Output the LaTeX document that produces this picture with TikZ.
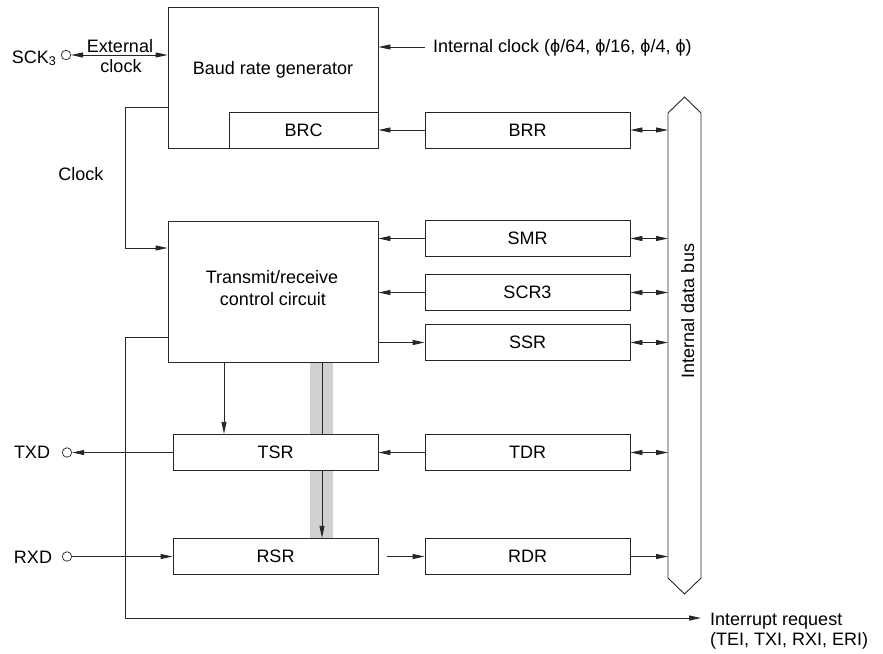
\documentclass[tikz,border=0pt]{standalone}
\usepackage{fontspec}
\setmainfont{Liberation Sans}
\usetikzlibrary{arrows.meta}
\begin{document}
\begin{tikzpicture}[x=1pt,y=-1pt,
  every node/.style={font=\fontsize{18}{21}\selectfont, text=black},
  box/.style={draw=black!85, line width=0.9pt, fill=white, inner sep=0pt},
  reg/.style={box, minimum width=205pt, minimum height=36.5pt},
  big/.style={box, minimum width=210pt, minimum height=141pt},
  pin/.style={circle, draw=black!85, line width=0.7pt, minimum size=9.5pt, inner sep=0pt},
  conn/.style={draw=black!85, line width=0.9pt},
  >={Triangle[length=12pt,width=5pt]}]
\useasboundingbox (0,0) rectangle (883,653);

% grey transfer bar (behind TSR)
\fill[black!18] (310,362) rectangle (333,538);

% main blocks
\node[big] (brg) at (273,77.5) {};
\node[box, minimum width=149pt, minimum height=36pt] (brc) at (303.5,130) {BRC};
\node[anchor=base] (brgt) at (273,74) {Baud rate generator};
\node[reg, minimum height=36pt] (brr) at (527.5,130) {BRR};

\node[big] (trc) at (273,291.5) {};
\node[anchor=base] (trct1) at (272,283) {Transmit/receive};
\node[anchor=base] (trct2) at (273,305) {control circuit};

\node[reg] (smr) at (527.5,238.5) {SMR};
\node[reg] (scr) at (527.5,292.5) {SCR3};
\node[reg] (ssr) at (527.5,342.5) {SSR};
\node[reg] (tsr) at (275.5,452.5) {TSR};
\node[reg] (tdr) at (527.5,452.5) {TDR};
\node[reg] (rsr) at (275.5,556.5) {RSR};
\node[reg] (rdr) at (527.5,556.5) {RDR};

% internal data bus
\draw[conn] (668,113) -- (684.5,97) -- (701,113) -- (701,578) -- (684.5,594) -- (668,578) -- cycle;
\coordinate (busL) at (668,300);
\node[rotate=90, anchor=base] (bust) at (694,311) {Internal data bus};

% pins
\node[pin] (sck) at (66,55) {};
\node[anchor=base east] (sckt) at (60,63) {SCK\textsubscript{3}};
\node[pin] (txd) at (67,452.5) {};
\node[anchor=base] (txdt) at (32,458) {TXD};
\node[pin] (rxd) at (67,556.5) {};
\node[anchor=base] (rxdt) at (33,563) {RXD};

% labels
\node[anchor=base] (ext1) at (120,52) {External};
\node[anchor=base] (ext2) at (121,72) {clock};
\node[anchor=base] (clkt) at (81,180) {Clock};
\node[anchor=base west, inner sep=0pt] (ict) at (433,52) {Internal clock (ϕ/64, ϕ/16, ϕ/4, ϕ)};
\node[anchor=base west, inner sep=0pt] (irt1) at (710,625) {Interrupt request};
\node[anchor=base west, inner sep=0pt] (irt2) at (710,645) {(TEI, TXI, RXI, ERI)};

% connectors
\draw[conn, <->] (sck.east) -- (sck.east -| brg.west);
\coordinate (icA) at (425,47);
\draw[conn, ->] (icA) -- (icA -| brg.east);
\draw[conn, ->] (brr.west) -- (brc.east);
\draw[conn, <->] (brr.east) -- (brr.east -| busL);

\coordinate (ckA) at (168,107);
\coordinate (ckB) at (125,107);
\coordinate (ckC) at (125,248);
\draw[conn, ->] (ckA) -- (ckB) -- (ckC) -- (ckC -| trc.west);

\draw[conn, ->] (smr.west) -- (smr.west -| trc.east);
\draw[conn, ->] (scr.west) -- (scr.west -| trc.east);
\draw[conn, ->] (ssr.west -| trc.east) -- (ssr.west);
\draw[conn, <->] (smr.east) -- (smr.east -| busL);
\draw[conn, <->] (scr.east) -- (scr.east -| busL);
\draw[conn, <->] (ssr.east) -- (ssr.east -| busL);
\draw[conn, <->] (tdr.east) -- (tdr.east -| busL);
\draw[conn, ->] (rdr.east) -- (rdr.east -| busL);

\coordinate (irA) at (168,337);
\coordinate (irB) at (125,337);
\coordinate (irC) at (125,618);
\coordinate (irD) at (701,618);
\draw[conn, ->] (irA) -- (irB) -- (irC) -- (irD);

\coordinate (tx) at (224,400);
\draw[conn, ->] (trc.south -| tx) -- (tsr.north -| tx);
\coordinate (bx) at (322,400);
\draw[conn] (trc.south -| bx) -- (tsr.north -| bx);
\draw[conn, ->] (tsr.south -| bx) -- (rsr.north -| bx);

\draw[conn, ->] (tsr.west) -- (txd.east);
\draw[conn, ->] (rxd.east) -- (rsr.west);
\draw[conn, ->] (tdr.west) -- (tsr.east);
\draw[conn, ->] ([xshift=9pt]rsr.east) -- (rdr.west);
\end{tikzpicture}
\end{document}
